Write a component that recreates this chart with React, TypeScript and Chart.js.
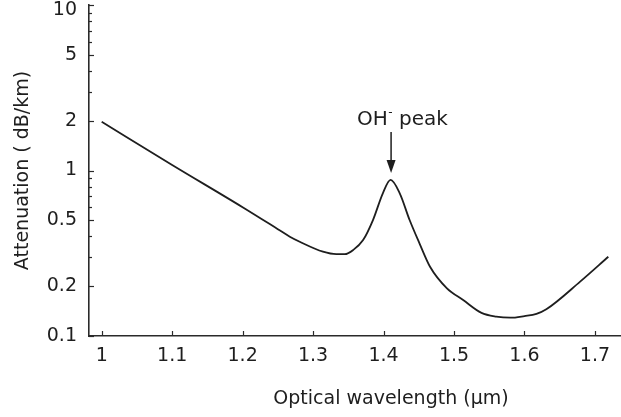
import React, { useEffect, useRef } from 'react';
import { Chart, registerables } from 'chart.js';

Chart.register(...registerables);

// ---- data ----
const WAVELENGTH = [1.0, 1.1, 1.2, 1.25, 1.267, 1.281, 1.314, 1.333, 1.345, 1.357, 1.371, 1.385, 1.399, 1.41, 1.423, 1.437, 1.451, 1.466, 1.49, 1.513, 1.539, 1.56, 1.58, 1.6, 1.617, 1.631, 1.679, 1.719];
const ATTENUATION = [1.97, 1.08, 0.6, 0.442, 0.398, 0.371, 0.323, 0.312, 0.312, 0.331, 0.38, 0.502, 0.728, 0.877, 0.728, 0.502, 0.363, 0.262, 0.194, 0.165, 0.138, 0.131, 0.129, 0.132, 0.136, 0.145, 0.213, 0.301];
const X_TICKS = [1, 1.1, 1.2, 1.3, 1.4, 1.5, 1.6, 1.7];
const Y_TICKS = [0.1, 0.2, 0.3, 0.4, 0.5, 0.6, 0.7, 0.8, 0.9, 1, 2, 3, 4, 5, 6, 7, 8, 9, 10];
const Y_LABELS = [0.1, 0.2, 0.5, 1, 2, 5, 10];
const X_RANGE = [0.982, 1.737];
const Y_RANGE = [0.1, 10];
const PEAK = { x: 1.41, y: 0.877 };
const PEAK_TEXT = ['OH', '-', ' peak'];
const X_TITLE = 'Optical wavelength (\u03bcm)';
const Y_TITLE = 'Attenuation ( dB/km)';

const FONT = 'DejaVu Sans';
const INK = '#1e1e1e';
const AXIS = '#2a2a2a';

const decorPlugin = {
  id: 'decor',
  afterDraw(chart: any) {
    const { ctx, chartArea, scales } = chart;
    const xs = scales.x;
    const ys = scales.y;
    ctx.save();
    ctx.strokeStyle = AXIS;
    ctx.lineWidth = 1.2;
    // inward tick marks
    for (const v of Y_TICKS) {
      const py = Math.round(ys.getPixelForValue(v)) + 0.5;
      const len = Y_LABELS.includes(v) ? 5 : 3;
      ctx.beginPath();
      ctx.moveTo(chartArea.left, py);
      ctx.lineTo(chartArea.left + len, py);
      ctx.stroke();
    }
    for (const v of X_TICKS) {
      const px = Math.round(xs.getPixelForValue(v)) + 0.5;
      ctx.beginPath();
      ctx.moveTo(px, chartArea.bottom);
      ctx.lineTo(px, chartArea.bottom - 5);
      ctx.stroke();
    }
    // x axis title
    ctx.fillStyle = INK;
    ctx.font = `19px "${FONT}"`;
    ctx.textAlign = 'center';
    ctx.textBaseline = 'alphabetic';
    ctx.fillText(X_TITLE, 391, chartArea.bottom + 68);

    // peak annotation
    const ax = xs.getPixelForValue(PEAK.x) + 0.5;
    const tip = ys.getPixelForValue(PEAK.y) - 7;
    const top = tip - 41;
    ctx.strokeStyle = INK;
    ctx.lineWidth = 1.5;
    ctx.beginPath();
    ctx.moveTo(ax, top);
    ctx.lineTo(ax, tip - 10);
    ctx.stroke();
    ctx.fillStyle = INK;
    ctx.beginPath();
    ctx.moveTo(ax - 4.5, tip - 13);
    ctx.lineTo(ax + 4.5, tip - 13);
    ctx.lineTo(ax, tip);
    ctx.closePath();
    ctx.fill();

    ctx.textAlign = 'left';
    let tx = ax - 34;
    const base = top - 7;
    ctx.font = `20px "${FONT}"`;
    ctx.fillText(PEAK_TEXT[0], tx, base);
    tx += ctx.measureText(PEAK_TEXT[0]).width + 0.5;
    ctx.font = `12px "${FONT}"`;
    ctx.fillText(PEAK_TEXT[1], tx, base - 9);
    tx += ctx.measureText(PEAK_TEXT[1]).width;
    ctx.font = `20px "${FONT}"`;
    ctx.fillText(PEAK_TEXT[2], tx, base);
    ctx.restore();
  },
};

export default function App() {
  const ref = useRef<HTMLCanvasElement | null>(null);

  useEffect(() => {
    if (!ref.current) return;
    const chart = new Chart(ref.current, {
      type: 'line',
      data: {
        datasets: [
          {
            data: WAVELENGTH.map((x, i) => ({ x, y: ATTENUATION[i] })),
            borderColor: INK,
            borderWidth: 1.8,
            pointRadius: 0,
            fill: false,
            cubicInterpolationMode: 'monotone',
          },
        ],
      },
      options: {
        responsive: false,
        animation: false,
        layout: { padding: { top: 5, right: 0, left: 0, bottom: 0 } },
        plugins: { legend: { display: false }, tooltip: { enabled: false }, title: { display: false } },
        scales: {
          x: {
            type: 'linear',
            min: X_RANGE[0],
            max: X_RANGE[1],
            grid: { display: false, drawTicks: false },
            border: { display: true, color: AXIS, width: 1.6 },
            afterBuildTicks: (s: any) => {
              s.ticks = X_TICKS.map((v) => ({ value: v }));
            },
            afterFit: (s: any) => {
              s.height = 81;
              s.paddingLeft = 0;
              s.paddingRight = 0;
            },
            ticks: {
              autoSkip: false,
              maxRotation: 0,
              padding: 9,
              color: INK,
              font: { family: FONT, size: 19 },
              callback: (v: any) => String(v),
            },
          },
          y: {
            type: 'logarithmic',
            min: Y_RANGE[0],
            max: Y_RANGE[1],
            grid: { display: false, drawTicks: false },
            border: { display: true, color: AXIS, width: 1.6 },
            afterBuildTicks: (s: any) => {
              s.ticks = Y_TICKS.map((v) => ({ value: v }));
            },
            afterFit: (s: any) => {
              s.width = 89;
              s.paddingTop = 0;
              s.paddingBottom = 0;
            },
            title: {
              display: true,
              text: Y_TITLE,
              color: INK,
              font: { family: FONT, size: 19 },
              padding: { top: 12, bottom: 0 },
            },
            ticks: {
              autoSkip: false,
              padding: 12,
              color: INK,
              font: (c: any) =>
                c.tick && c.tick.value === 10
                  ? { family: FONT, size: 19, lineHeight: '10px' }
                  : { family: FONT, size: 19 },
              callback: (v: any) => {
                if (!Y_LABELS.includes(v)) return '';
                return v === 10 ? ['', '10'] : String(v);
              },
            },
          },
        },
      },
      plugins: [decorPlugin],
    } as any);
    return () => chart.destroy();
  }, []);

  return (
    <div style={{ position: 'fixed', left: 0, top: 0, width: 621, height: 417, background: '#fff' }}>
      <canvas ref={ref} width={621} height={417} style={{ width: 621, height: 417, display: 'block' }} />
    </div>
  );
}
